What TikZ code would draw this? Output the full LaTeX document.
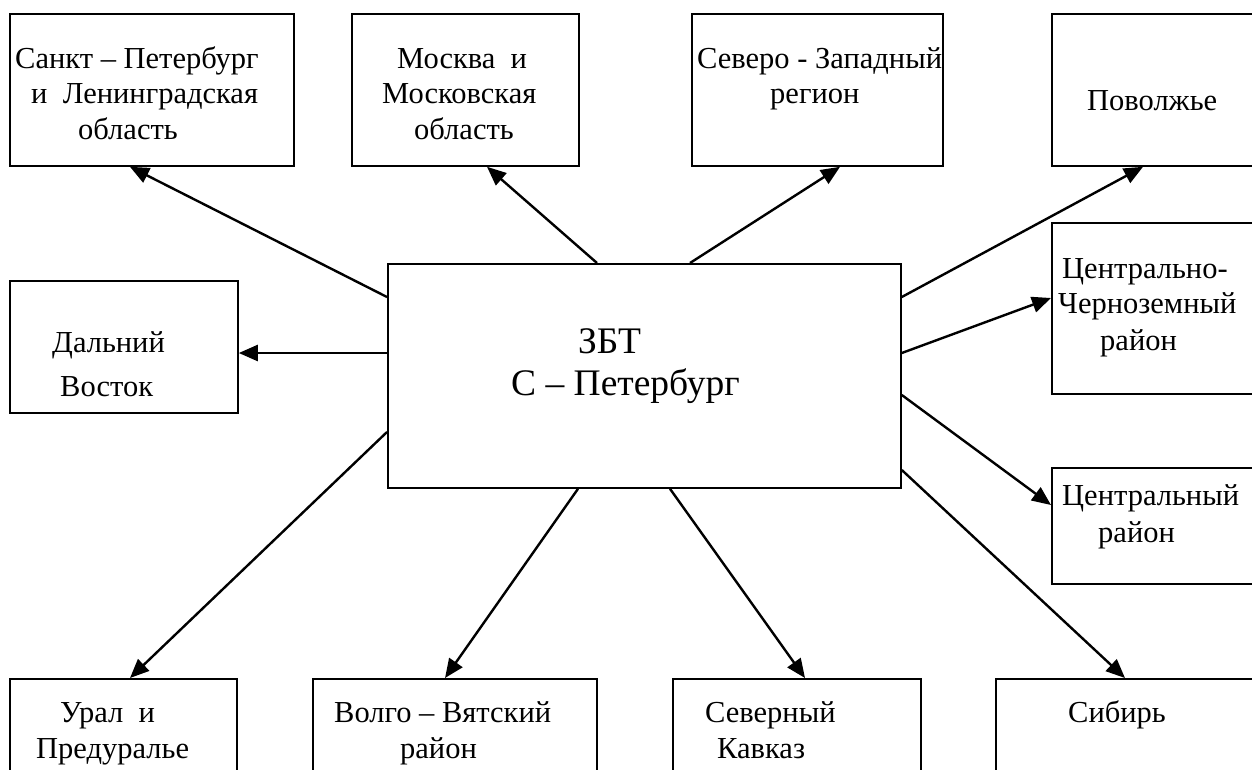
\documentclass[tikz,border=0pt]{standalone}
\usepackage{fontspec}
\setmainfont{Liberation Serif}
\usetikzlibrary{calc,arrows.meta}
\begin{document}
\begin{tikzpicture}[x=1pt,y=-1pt,
  box/.style={draw, line width=1.8pt, anchor=north west, inner sep=0pt},
  lbl/.style={anchor=base west, inner sep=0pt, font=\fontsize{30.5}{36}\selectfont},
  big/.style={anchor=base west, inner sep=0pt, font=\fontsize{37.5}{42}\selectfont},
  link/.style={line width=2.4pt, -{Triangle[length=19pt,width=16pt]}}]
\useasboundingbox (0,0) rectangle (1252,769);
\clip (0,0) rectangle (1252,769);

% regional boxes
\node[box, minimum width=284pt, minimum height=152pt] (b1) at (9,13) {};
\node[box, minimum width=227pt, minimum height=152pt] (b2) at (351,13) {};
\node[box, minimum width=251pt, minimum height=152pt] (b3) at (691,13) {};
\node[box, minimum width=260pt, minimum height=152pt] (b4) at (1051,13) {};
\node[box, minimum width=260pt, minimum height=171pt] (b5) at (1051,222) {};
\node[box, minimum width=228pt, minimum height=132pt] (b6) at (9,280) {};
\node[box, minimum width=260pt, minimum height=116pt] (b7) at (1051,467) {};
\node[box, minimum width=227pt, minimum height=120pt] (u1) at (9,678) {};
\node[box, minimum width=284pt, minimum height=120pt] (u2) at (312,678) {};
\node[box, minimum width=248pt, minimum height=120pt] (u3) at (672,678) {};
\node[box, minimum width=300pt, minimum height=120pt] (u4) at (995,678) {};
% central box
\node[box, minimum width=513pt, minimum height=224pt] (c) at (387,263) {};

% labels
\node[lbl] (t1a) at (15,68) {Санкт – Петербург};
\node[lbl] (t1b) at (31,103) {и\ \ Ленинградская};
\node[lbl] (t1c) at (78,139) {область};
\node[lbl] (t2a) at (397,68) {Москва\ \ и};
\node[lbl] (t2b) at (382,103) {Московская};
\node[lbl] (t2c) at (414,139) {область};
\node[lbl] (t3a) at (697,68) {Северо - Западный};
\node[lbl] (t3b) at (770,103) {регион};
\node[lbl] (t4a) at (1087,110) {Поволжье};
\node[lbl] (t5a) at (1062,278) {Центрально-};
\node[lbl] (t5b) at (1058,313) {Черноземный};
\node[lbl] (t5c) at (1100,350) {район};
\node[lbl] (t6a) at (52,352) {Дальний};
\node[lbl] (t6b) at (60,396) {Восток};
\node[lbl] (t7a) at (1062,505) {Центральный};
\node[lbl] (t7b) at (1098,542) {район};
\node[big] (tca) at (578,353) {ЗБТ};
\node[big] (tcb) at (511,395) {С – Петербург};
\node[lbl] (u1a) at (60,722) {Урал\ \ и};
\node[lbl] (u1b) at (36,758) {Предуралье};
\node[lbl] (u2a) at (334,722) {Волго – Вятский};
\node[lbl] (u2b) at (400,758) {район};
\node[lbl] (u3a) at (705,722) {Северный};
\node[lbl] (u3b) at (717,758) {Кавказ};
\node[lbl] (u4a) at (1068,722) {Сибирь};

% connectors from the central box
\draw[link] ($(c.north west)+(0,34)$)  -- ($(b1.south west)+(121,0)$);
\draw[link] ($(c.north west)+(210,0)$) -- ($(b2.south west)+(136,0)$);
\draw[link] ($(c.north west)+(303,0)$) -- ($(b3.south west)+(149,0)$);
\draw[link] ($(c.north east)+(0,34)$)  -- ($(b4.south west)+(92,0)$);
\draw[link] ($(c.north east)+(0,90)$)  -- ($(b5.north west)+(0,76)$);
\draw[link] ($(c.north west)+(0,90)$)  -- ($(b6.north east)+(0,73)$);
\draw[link] ($(c.north east)+(0,132)$) -- ($(b7.north west)+(0,38)$);
\draw[link] ($(c.north east)+(0,207)$) -- ($(u4.north west)+(130,0)$);
\draw[link] ($(c.south west)+(283,0)$) -- ($(u3.north west)+(133,0)$);
\draw[link] ($(c.south west)+(191,0)$) -- ($(u2.north west)+(133,0)$);
\draw[link] ($(c.north west)+(0,169)$) -- ($(u1.north west)+(121,0)$);
\end{tikzpicture}
\end{document}
